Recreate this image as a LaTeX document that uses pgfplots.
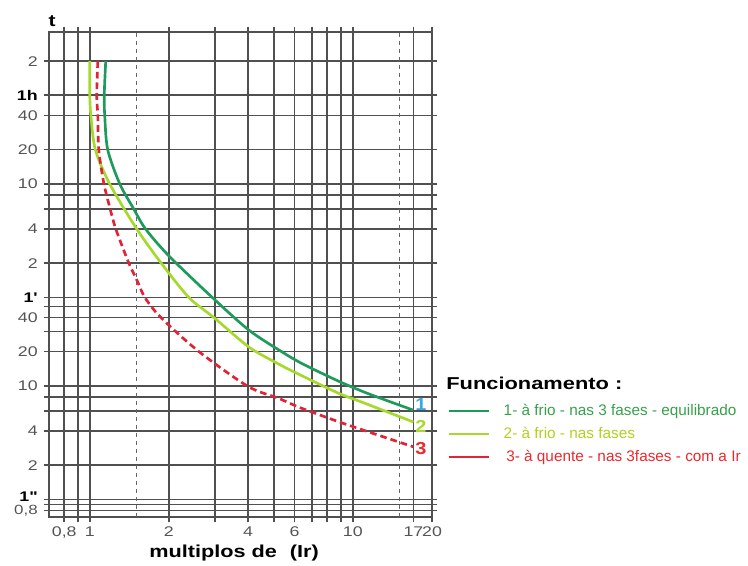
\documentclass[border=0pt]{standalone}
\usepackage{pgfplots}
\pgfplotsset{compat=1.18}
\usepackage{fontspec}
\setmainfont{Liberation Sans}
\definecolor{gridc}{RGB}{80,80,80}
\definecolor{labc}{RGB}{85,85,85}
\definecolor{c1}{RGB}{30,155,90}
\definecolor{c2}{RGB}{165,218,45}
\definecolor{c3}{RGB}{225,35,55}
\definecolor{n1}{RGB}{60,165,225}
\definecolor{t1}{RGB}{55,160,75}
\definecolor{t2}{RGB}{175,210,30}
\definecolor{t3}{RGB}{235,40,45}
\newcommand\bl{\color{black}\fontsize{10.5}{12}\selectfont\bfseries}
\begin{document}
\begin{tikzpicture}
\begin{axis}[
  at={(36.75pt,-387.75pt)}, anchor=south west,
  scale only axis, width=287.25pt, height=363.75pt,
  xmode=log, ymode=log,
  xmin=0.7, xmax=20, ymin=0.7, ymax=13000,
  xtick={0.8,0.9,1,2,3,4,5,6,7,8,9,10,17,20},
  xticklabels={{0,8},{},1,2,{},4,{},6,{},{},{},10,17,20},
  ytick={0.8,0.9,1,2,4,6,8,10,20,30,40,50,60,120,240,360,480,600,1200,2400,3600,7200},
  yticklabels={{\fontsize{10}{11}\selectfont\raisebox{-4.5pt}{0,8}},{},{\bl\raisebox{3.5pt}{1\textquotedbl}},2,4,{},{},10,20,{},40,{},{\bl 1\textquotesingle},2,4,{},{},10,20,40,{\bl 1h},2},
  xminorticks=false, yminorticks=false,
  grid=major,
  major grid style={line width=1.3pt, gridc},
  axis line style={line width=1.3pt, gridc},
  tick style={line width=1.3pt, gridc},
  tick align=outside, major tick length=4pt,
  tick label style={font=\fontsize{10.5}{12}\selectfont, text=labc, xscale=1.27},
  extra x ticks={1.5,15},
  extra x tick labels={},
  extra x tick style={major tick length=0pt, grid=major, major grid style={dashed, line width=0.6pt, black!60}},
  legend cell align=left,
  legend style={at={(1.0418,0.233)}, anchor=north west, draw=none, fill=none,
    inner sep=0pt, outer sep=0pt, row sep=6.25pt,
    nodes={inner sep=0pt, text height=8.5pt, text depth=2.5pt, font=\fontsize{11.5}{13}\selectfont},
    /tikz/every odd column/.append style={column sep=10.5pt}},
]
\addplot[c1, line width=2pt, smooth, legend image code/.code={\draw[c1,solid,line width=1.3pt] (0pt,0pt) -- (30pt,0pt);}] coordinates {
(1.15,7200) (1.135,3600) (1.14,2400) (1.17,1200) (1.30,600) (1.47,360) (1.63,240)
(2.0,139) (2.91,60.5) (4.02,31) (5.32,20.2) (6.34,15.9) (8.32,11.7) (9.77,9.9) (11.8,8.3) (17,6.1)};
\addlegendentry{\textcolor{t1}{1- à frio - nas 3 fases - equilibrado}}
\addplot[c2, line width=2pt, smooth, legend image code/.code={\draw[c2,solid,line width=1.3pt] (0pt,0pt) -- (30pt,0pt);}] coordinates {
(1.0,7200) (1.0,3600) (1.01,2400) (1.05,1200) (1.19,600) (1.50,245) (1.87,120) (2.38,60)
(2.96,40) (4.02,22) (5.13,15.9) (6.0,13.2) (8.8,8.63) (10.8,7.2) (17,4.8)};
\addlegendentry{\textcolor{t2}{2- à frio - nas fases}}
\addplot[c3, line width=2pt, smooth, dash pattern=on 5pt off 3pt, legend image code/.code={\draw[c3,solid,line width=1.3pt] (0pt,0pt) -- (30pt,0pt);}] coordinates {
(1.073,7200) (1.063,3600) (1.073,2400) (1.082,1200) (1.132,600) (1.196,360) (1.256,240)
(1.407,120.6) (1.51,85.4) (1.62,60) (1.862,40) (2.60,20) (3.99,9.9) (5.19,7.8) (6.34,6.39)
(8.67,4.9) (10.6,4.18) (17,2.9)};
\addlegendentry{\textcolor{t3}{\,3- à quente - nas 3fases - com a Ir}}
\end{axis}
\begin{scope}[x=0.75pt,y=-0.75pt]
\node[font=\fontsize{12.4}{13}\selectfont\bfseries, xscale=1.27] at (52,21) {t};
\node[font=\fontsize{13}{14}\selectfont\bfseries, xscale=1.25] at (234,553) {multiplos de\hspace{0.6em}(Ir)};
\node[anchor=west, inner sep=0pt, font=\fontsize{12.9}{14}\selectfont\bfseries, xscale=1.27] at (446,383) {Funcionamento :};
\node[font=\fontsize{13}{13}\selectfont\bfseries, text=n1, xscale=1.15] at (421,405) {1};
\node[font=\fontsize{13}{13}\selectfont\bfseries, text=c2, xscale=1.15] at (421,426) {2};
\node[font=\fontsize{13}{13}\selectfont\bfseries, text=t3, xscale=1.15] at (421,449) {3};
\end{scope}
\pgfresetboundingbox
\path[x=0.75pt,y=-0.75pt] (0,0) rectangle (748,565);
\end{tikzpicture}
\end{document}
